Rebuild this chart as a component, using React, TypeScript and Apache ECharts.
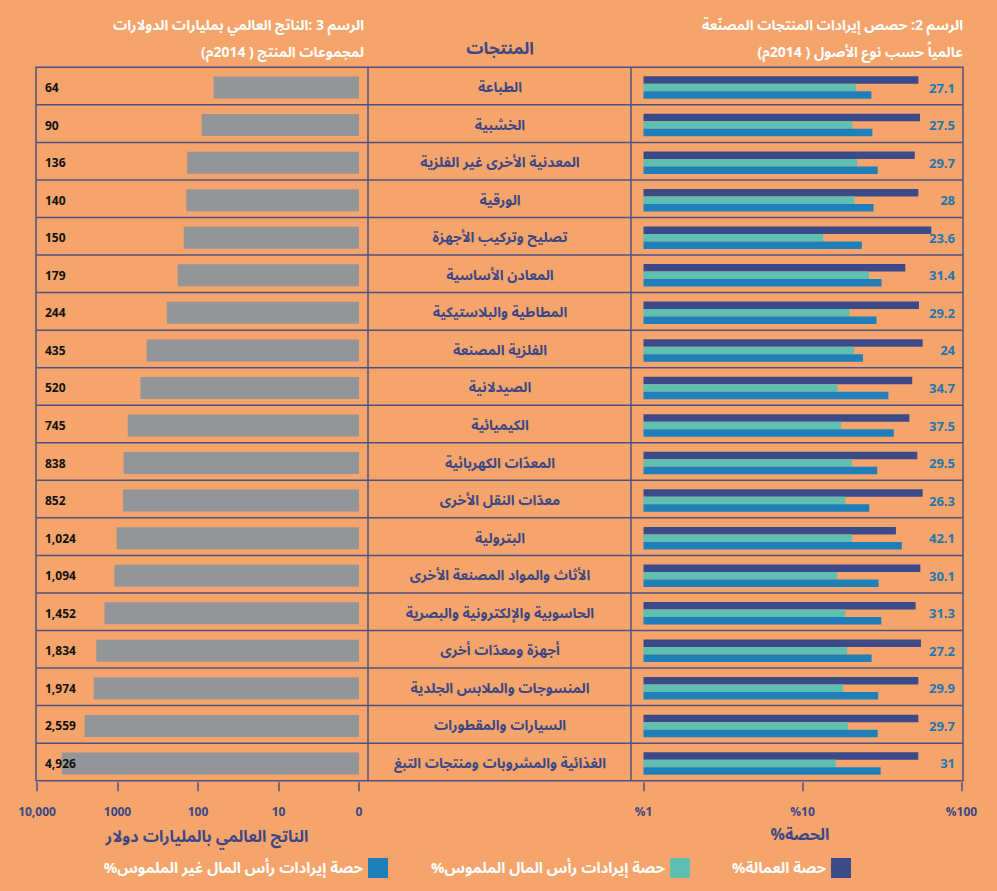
import React, { useEffect, useRef } from "react";
import * as echarts from "echarts";

const categories = [
  "الطباعة",
  "الخشبية",
  "المعدنية الأخرى غير الفلزية",
  "الورقية",
  "تصليح وتركيب الأجهزة",
  "المعادن الأساسية",
  "المطاطية والبلاستيكية",
  "الفلزية المصنعة",
  "الصيدلانية",
  "الكيميائية",
  "المعدّات الكهربائية",
  "معدّات النقل الأخرى",
  "البترولية",
  "الأثاث والمواد المصنعة الأخرى",
  "الحاسوبية والإلكترونية والبصرية",
  "أجهزة ومعدّات أخرى",
  "المنسوجات والملابس الجلدية",
  "السيارات والمقطورات",
  "الغذائية والمشروبات ومنتجات التبغ",
];

const grossOutput = [64, 90, 136, 140, 150, 179, 244, 435, 520, 745, 838, 852, 1024, 1094, 1452, 1834, 1974, 2559, 4926];
const laborShare = [53.5, 54.8, 50.8, 53.5, 64.6, 44.3, 54.0, 57.0, 49.0, 47.0, 52.7, 57.0, 38.7, 55.1, 51.5, 55.6, 53.5, 53.5, 53.5];
const tangibleShare = [21.7, 20.6, 22.1, 21.2, 13.5, 26.2, 19.7, 21.1, 16.6, 17.5, 20.4, 18.6, 20.5, 16.5, 18.6, 19.1, 18.0, 19.3, 16.2];
const intangibleShare = [27.1, 27.5, 29.7, 28, 23.6, 31.4, 29.2, 24, 34.7, 37.5, 29.5, 26.3, 42.1, 30.1, 31.3, 27.2, 29.9, 29.7, 31];

const leftTickLabels = ["0", "10", "100", "1000", "10,000"];
const rightTickLabels = ["%1", "%10", "%100"];

const seriesNames = [
  "%حصة العمالة",
  "%حصة إيرادات رأس المال الملموس",
  "%حصة إيرادات رأس المال غير الملموس",
];

const leftTitle = ["الرسم 3 :الناتج العالمي بمليارات الدولارات", "لمجموعات المنتج ( 2014م)"];
const rightTitle = ["الرسم 2: حصص إيرادات المنتجات المصنّعة", "عالمياً حسب نوع الأصول ( 2014م)"];

const BG = "#F5A56B";
const NAVY = "#3D4785";
const LINE = "#4E5383";
const DARK = "#3C4A8A";
const TEAL = "#5FC0B1";
const BLUE = "#1E7FBA";
const GRAY = "#939598";
const AR = "'Noto Sans Arabic', 'DejaVu Sans', sans-serif";
const NUM = "'Open Sans', 'Noto Sans', sans-serif";

const TOP = 67.3;
const H = 713.4;

export default function App() {
  const ref = useRef<HTMLDivElement>(null);

  useEffect(() => {
    document.body.style.margin = "0";
    if (!ref.current) return;
    const chart = echarts.init(ref.current, null, { renderer: "svg" });

    const rowH = H / categories.length;
    const frame: any[] = [
      {
        type: "rect",
        shape: { x: 36, y: TOP, width: 927, height: H },
        style: { fill: "none", stroke: LINE, lineWidth: 1.5 },
        z: 10,
      },
      { type: "line", shape: { x1: 368, y1: TOP, x2: 368, y2: TOP + H }, style: { stroke: LINE, lineWidth: 1.5 }, z: 10 },
      { type: "line", shape: { x1: 631, y1: TOP, x2: 631, y2: TOP + H }, style: { stroke: LINE, lineWidth: 1.5 }, z: 10 },
    ];
    for (let i = 1; i < categories.length; i++) {
      const y = TOP + i * rowH;
      frame.push({ type: "line", shape: { x1: 36, y1: y, x2: 963, y2: y }, style: { stroke: LINE, lineWidth: 1.5 }, z: 10 });
    }

    const txt = (text: string, x: number, y: number, opts: any) => ({
      type: "text",
      x,
      y,
      style: {
        text,
        fontFamily: AR,
        verticalAlign: "middle",
        ...opts,
      },
      z: 10,
    });

    const titleStyle = { align: "right", fill: "#fff", fontSize: 14, fontWeight: "bold" };
    const titles = [
      txt(leftTitle[0], 364, 25, titleStyle),
      txt(leftTitle[1], 364, 52.5, titleStyle),
      txt(rightTitle[0], 963, 25, titleStyle),
      txt(rightTitle[1], 963, 52.5, titleStyle),
      txt("المنتجات", 500, 49, { align: "center", fill: NAVY, fontSize: 17, fontWeight: "bold" }),
      txt("الناتج العالمي بالمليارات دولار", 207, 837, { align: "center", fill: NAVY, fontSize: 16, fontWeight: "bold" }),
      txt("%الحصة", 800, 835, { align: "center", fill: NAVY, fontSize: 16, fontWeight: "bold" }),
    ];

    const axisTickStyle = { show: true, length: 9, inside: false, lineStyle: { color: LINE, width: 1.5 } };
    const tickLabelStyle = { color: NAVY, fontFamily: NUM, fontWeight: "bold", fontSize: 12, margin: 23 };

    const legendCommon = {
      top: 853,
      itemWidth: 20,
      itemHeight: 20,
      icon: "rect",
      align: "right",
      textStyle: { color: "#fff", fontFamily: AR, fontWeight: "bold", fontSize: 15 },
    };

    const option: any = {
      animation: false,
      backgroundColor: BG,
      legend: [
        { ...legendCommon, right: 141, data: [seriesNames[0]] },
        { ...legendCommon, right: 302, data: [seriesNames[1]] },
        { ...legendCommon, right: 604, data: [seriesNames[2]] },
      ],
      grid: [
        { left: 37, width: 322, top: TOP + 1.5, height: H, containLabel: false },
        { left: 643.5, width: 318, top: TOP + 1.5, height: H, containLabel: false },
      ],
      xAxis: [
        {
          gridIndex: 0,
          type: "log",
          logBase: 10,
          min: 1,
          max: 10000,
          inverse: true,
          position: "bottom",
          axisLine: { show: false },
          axisTick: axisTickStyle,
          splitLine: { show: false },
          axisLabel: {
            ...tickLabelStyle,
            formatter: (v: number) => leftTickLabels[Math.round(Math.log10(v))],
          },
        },
        {
          gridIndex: 1,
          type: "log",
          logBase: 10,
          min: 1,
          max: 100,
          position: "bottom",
          axisLine: { show: false },
          axisTick: axisTickStyle,
          splitLine: { show: false },
          axisLabel: {
            ...tickLabelStyle,
            formatter: (v: number) => rightTickLabels[Math.round(Math.log10(v))],
          },
        },
      ],
      yAxis: [
        {
          gridIndex: 0,
          type: "category",
          data: categories,
          inverse: true,
          position: "left",
          z: 5,
          axisLine: { show: false },
          axisTick: { show: false },
          axisLabel: {
            interval: 0,
            align: "left",
            margin: -8,
            color: "#111",
            fontFamily: NUM,
            fontWeight: "bold",
            fontSize: 12,
            formatter: (_v: string, i: number) => grossOutput[i].toLocaleString("en-US"),
          },
        },
        {
          gridIndex: 1,
          type: "category",
          data: categories,
          inverse: true,
          position: "right",
          z: 5,
          axisLine: { show: false },
          axisTick: { show: false },
          axisLabel: {
            interval: 0,
            align: "right",
            margin: -6.5,
            padding: [17, 0, 0, 0],
            color: "#2276B3",
            fontFamily: NUM,
            fontWeight: "bold",
            fontSize: 13,
            formatter: (_v: string, i: number) => String(intangibleShare[i]),
          },
        },
        {
          gridIndex: 1,
          type: "category",
          data: categories,
          inverse: true,
          position: "left",
          axisLine: { show: false },
          axisTick: { show: false },
          axisLabel: {
            interval: 0,
            align: "center",
            margin: 143.5,
            padding: [0, 0, 3, 0],
            color: NAVY,
            fontFamily: AR,
            fontWeight: "bold",
            fontSize: 14,
          },
        },
      ],
      series: [
        {
          type: "bar",
          name: "الناتج العالمي",
          xAxisIndex: 0,
          yAxisIndex: 0,
          data: grossOutput,
          barWidth: 22,
          z: 1,
          itemStyle: { color: GRAY },
        },
        {
          type: "bar",
          name: seriesNames[0],
          xAxisIndex: 1,
          yAxisIndex: 1,
          data: laborShare,
          barWidth: 7.5,
          barGap: "0%",
          itemStyle: { color: DARK },
        },
        {
          type: "bar",
          name: seriesNames[1],
          xAxisIndex: 1,
          yAxisIndex: 1,
          data: tangibleShare,
          barWidth: 7.5,
          barGap: "0%",
          itemStyle: { color: TEAL },
        },
        {
          type: "bar",
          name: seriesNames[2],
          xAxisIndex: 1,
          yAxisIndex: 1,
          data: intangibleShare,
          barWidth: 7.5,
          barGap: "0%",
          itemStyle: { color: BLUE },
        },
      ],
      graphic: [...frame, ...titles],
    };

    chart.setOption(option);
    return () => chart.dispose();
  }, []);

  return <div ref={ref} style={{ width: 997, height: 891 }} />;
}
